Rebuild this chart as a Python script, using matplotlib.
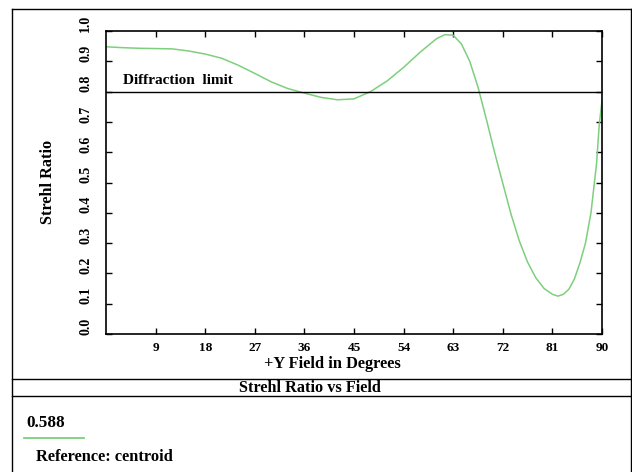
import matplotlib
matplotlib.use("Agg")
import matplotlib.pyplot as plt
from matplotlib.lines import Line2D
from matplotlib.transforms import ScaledTranslation

field_deg = [0, 3, 6, 9, 12, 15, 18, 21, 24, 27, 30, 33, 36, 39, 42, 45, 48, 51, 54,
             57, 60, 61.5, 63, 64.5, 66, 67.5, 69, 70.5, 72, 73.5, 75, 76.5, 78, 79.5,
             81, 82, 83, 84, 85, 86, 87, 88, 89, 89.5, 90]
strehl = [0.948, 0.945, 0.943, 0.942, 0.941, 0.934, 0.924, 0.910, 0.887, 0.860, 0.832,
          0.810, 0.795, 0.781, 0.773, 0.776, 0.800, 0.835, 0.880, 0.930, 0.975, 0.988,
          0.986, 0.957, 0.900, 0.815, 0.710, 0.600, 0.497, 0.395, 0.307, 0.237, 0.185,
          0.150, 0.131, 0.125, 0.131, 0.148, 0.182, 0.235, 0.300, 0.400, 0.560, 0.690, 0.770]
x_ticks = [9, 18, 27, 36, 45, 54, 63, 72, 81, 90]
y_ticks = [0.0, 0.1, 0.2, 0.3, 0.4, 0.5, 0.6, 0.7, 0.8, 0.9, 1.0]
diffraction_limit = 0.8
legend_value = "0.588"
title = "Strehl Ratio vs Field"
x_label = "+Y Field in Degrees"
y_label = "Strehl Ratio"
reference_text = "Reference: centroid"

W, H = 632, 472
fig = plt.figure(figsize=(W / 100, H / 100), dpi=100)
fig.patch.set_facecolor("white")
serif = ["Liberation Serif", "DejaVu Serif"]
green = "#7dcf7d"

L, R, T, B = 106, 602, 31, 334
ax = fig.add_axes([L / W, (H - B) / H, (R - L) / W, (B - T) / H])
ax.plot(field_deg, strehl, color=green, lw=1.1)
ax.axhline(diffraction_limit, color="black", lw=1.0)
ax.set_xlim(0, 90)
ax.set_ylim(0, 1.0)
ax.set_xticks(x_ticks)
ax.set_yticks(y_ticks)
ax.set_xticklabels([str(v) for v in x_ticks], fontfamily=serif, fontweight="bold", fontsize=9.5)
ax.set_yticklabels([f"{v:.1f}" for v in y_ticks], fontfamily=serif, fontweight="bold",
                   fontsize=10, rotation=90, va="center")
ax.tick_params(axis="both", direction="in", length=4, width=1, top=True, right=True,
               labeltop=False, labelright=False)
ax.tick_params(axis="x", pad=6)
ax.tick_params(axis="y", pad=10)
for lab in ax.get_yticklabels():
    lab.set_transform(lab.get_transform() + ScaledTranslation(0, 8 / 100, fig.dpi_scale_trans))
for s in ax.spines.values():
    s.set_linewidth(1.2)

ax.text(3.1, 0.815, "Diffraction  limit", fontfamily=serif, fontweight="bold", fontsize=11,
        ha="left", va="bottom")

fig.text(332 / W, 1 - 364 / H, x_label, fontfamily=serif, fontweight="bold", fontsize=11.8,
         ha="center", va="center")
fig.text(48 / W, 1 - 182 / H, y_label, fontfamily=serif, fontweight="bold", fontsize=11.7,
         ha="center", va="center", rotation=90)

# outer frame and title band
def hline(y, x0=12, x1=632, lw=1.0):
    fig.add_artist(Line2D([x0 / W, x1 / W], [1 - y / H, 1 - y / H], color="black", lw=lw))

def vline(x, y0, y1, lw=1.0):
    fig.add_artist(Line2D([x / W, x / W], [1 - y0 / H, 1 - y1 / H], color="black", lw=lw))

hline(9)
hline(379)
hline(396)
vline(12, 9, 472)
vline(631, 9, 472)

fig.text(310 / W, 1 - 387.5 / H, title, fontfamily=serif, fontweight="bold", fontsize=11.7,
         ha="center", va="center")
fig.text(26 / W, 1 - 423 / H, legend_value, fontfamily=serif, fontweight="bold", fontsize=12.3,
         ha="left", va="center")
fig.add_artist(Line2D([24 / W, 84 / W], [1 - 438 / H, 1 - 438 / H], color=green, lw=1.3))
fig.text(36 / W, 1 - 457 / H, reference_text, fontfamily=serif, fontweight="bold", fontsize=11.8,
         ha="left", va="center")

fig.savefig("out.png", dpi=100, facecolor="white")
